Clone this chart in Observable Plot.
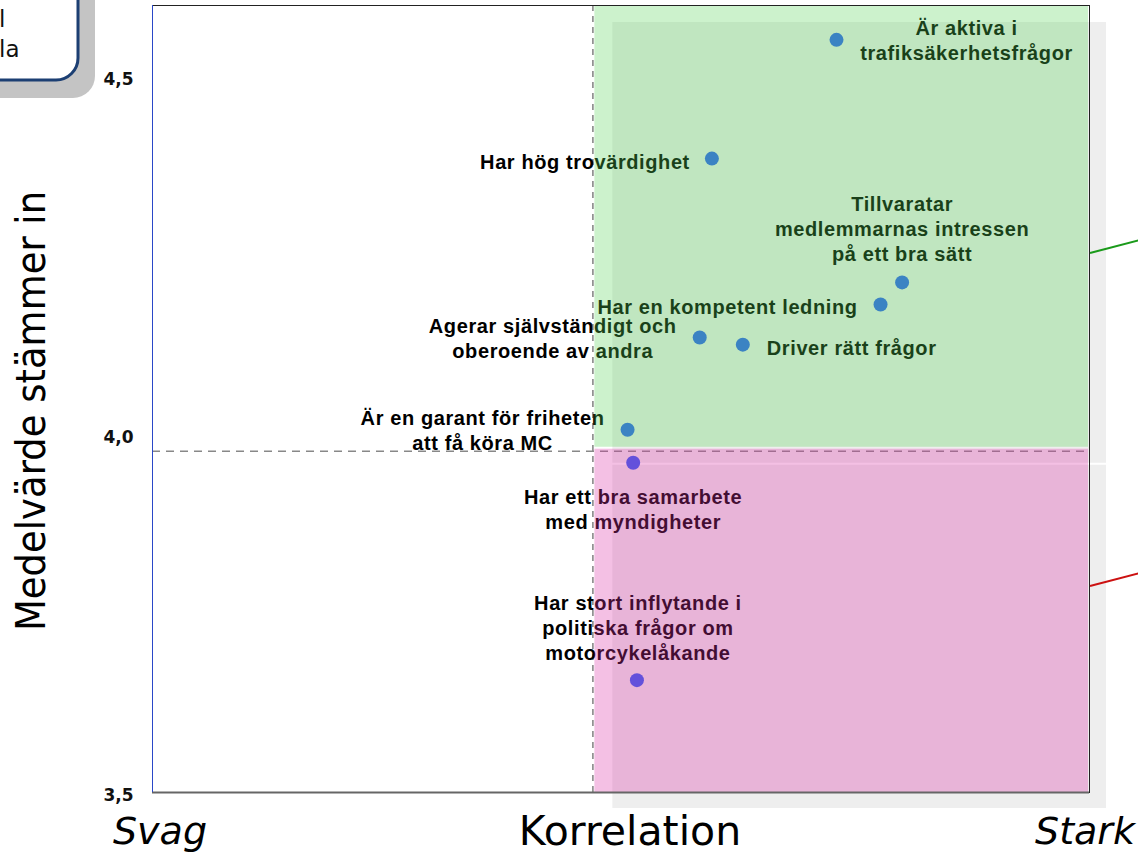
<!DOCTYPE html>
<html>
<head>
<meta charset="utf-8">
<script src="https://cdn.jsdelivr.net/npm/d3@7"></script>
<script src="https://cdn.jsdelivr.net/npm/@observablehq/plot@0.6"></script>
<style>
  body { margin: 0; background: #fff; }
  #chart { position: relative; width: 1138px; height: 854px; overflow: hidden; }
  #chart svg { display: block; }
  #chart svg g.pt-label text { letter-spacing: 0.6px; }
</style>
</head>
<body>
<div id="chart"></div>
<script>
// ---- Data ----
const statements = [
  "Är aktiva i\ntrafiksäkerhetsfrågor",
  "Har hög trovärdighet",
  "Tillvaratar\nmedlemmarnas intressen\npå ett bra sätt",
  "Har en kompetent ledning",
  "Agerar självständigt och\noberoende av andra",
  "Driver rätt frågor",
  "Är en garant för friheten\natt få köra MC",
  "Har ett bra samarbete\nmed myndigheter",
  "Har stort inflytande i\npolitiska frågor om\nmotorcykelåkande"
];
const correlation = [0.730, 0.597, 0.800, 0.777, 0.584, 0.630, 0.507, 0.513, 0.517];
const meanAgree   = [4.552, 4.386, 4.213, 4.182, 4.136, 4.126, 4.007, 3.961, 3.657];

const yTicks = [3.5, 4.0, 4.5];
const yTickLabels = ["3,5", "4,0", "4,5"];
const xDomain = [0, 1];
const yDomain = [3.5, 4.6];
const xSplit = 0.470;   // vertical reference line (correlation)
const ySplit = 3.977;   // horizontal reference line (mean)
const xTitle = "Korrelation";
const xLow = "Svag";
const xHigh = "Stark";
const yTitle = "Medelvärde stämmer in";
const calloutLines = ["l", "la"];

// ---- Label placement (layout only) ----
const labelLayout = [
  {anchor: "middle", dx: 130, dy: 0},
  {anchor: "end",    dx: -22, dy: 2},
  {anchor: "middle", dx: 0,   dy: -54},
  {anchor: "end",    dx: -23, dy: 1},
  {anchor: "middle", dx: -147, dy: 0},
  {anchor: "start",  dx: 24,  dy: 2},
  {anchor: "middle", dx: -145, dy: 0},
  {anchor: "middle", dx: 0,   dy: 46},
  {anchor: "middle", dx: 1,   dy: -53}
];

const points = statements.map((s, i) => ({label: s, x: correlation[i], y: meanAgree[i]}));

const greenQuad = [{x1: xSplit, x2: xDomain[1], y1: ySplit, y2: yDomain[1]}];
const pinkQuad  = [{x1: xSplit, x2: xDomain[1], y1: yDomain[0], y2: ySplit}];

const greenInset = {insetLeft: 2, insetRight: 1, insetTop: 1, insetBottom: 4};
const pinkInset  = {insetLeft: 2, insetRight: 1, insetTop: -2, insetBottom: 0};

const labelFont = {fontFamily: "Liberation Sans, Arial, sans-serif", fontSize: 20, fontWeight: "bold", lineHeight: 1.25, fill: "#000", className: "pt-label"};

const labelMarks = points.map((p, i) => Plot.text([p], {
  x: "x", y: "y", text: "label",
  textAnchor: labelLayout[i].anchor,
  dx: labelLayout[i].dx, dy: labelLayout[i].dy,
  ...labelFont
}));

const chart = Plot.plot({
  width: 1138,
  height: 854,
  marginLeft: 152,
  marginRight: 49,
  marginTop: 5,
  marginBottom: 62,
  style: {background: "transparent", overflow: "visible"},
  x: {domain: xDomain, axis: null},
  y: {domain: yDomain},
  marks: [
    // shadows
    Plot.rect(greenQuad, {x1: "x1", x2: "x2", y1: "y1", y2: "y2", fill: "#eeeeee", dx: 18, dy: 16, ...greenInset}),
    Plot.rect(pinkQuad,  {x1: "x1", x2: "x2", y1: "y1", y2: "y2", fill: "#eeeeee", dx: 18, dy: 16, ...pinkInset}),
    // reference lines
    Plot.ruleX([xSplit], {stroke: "#888", strokeWidth: 1.6, strokeDasharray: "6,5"}),
    Plot.ruleY([ySplit], {stroke: "#888", strokeWidth: 1.6, strokeDasharray: "8,6"}),
    // dots
    Plot.dot(points, {x: "x", y: "y", r: 7, fill: "#3060f2", stroke: "none"}),
    // labels
    ...labelMarks,
    // translucent quadrant boxes (over dots and text)
    Plot.rect(greenQuad, {x1: "x1", x2: "x2", y1: "y1", y2: "y2", fill: "rgb(85,211,85)", fillOpacity: 0.3, ...greenInset}),
    Plot.rect(pinkQuad,  {x1: "x1", x2: "x2", y1: "y1", y2: "y2", fill: "rgb(218,45,165)", fillOpacity: 0.3, ...pinkInset}),
    // frame
    Plot.frame({stroke: "#222", strokeWidth: 1}),
    Plot.ruleY([yDomain[0]], {stroke: "#666", strokeWidth: 2}),
    Plot.ruleX([xDomain[0]], {stroke: "#2a48c8", strokeWidth: 1}),
    // y axis
    Plot.axisY({
      ticks: yTicks,
      tickFormat: d => yTickLabels[yTicks.indexOf(d)],
      tickSize: 0, tickPadding: 19,
      fontSize: 17, fontWeight: "bold", fontFamily: "DejaVu Sans, Verdana, sans-serif",
      fill: "#111", dy: 3, label: null
    })
  ]
});

document.getElementById("chart").appendChild(chart);

// ---- Decorations outside the plot area ----
const svg = d3.select(chart);

// callout box partly cut off at top-left
const callout = svg.append("g").attr("text-anchor", "start");
callout.append("rect").attr("x", -23).attr("y", -22).attr("width", 118).attr("height", 120)
  .attr("rx", 22).attr("fill", "#c4c4c4");
callout.append("rect").attr("x", -40).attr("y", -40).attr("width", 118).attr("height", 120)
  .attr("rx", 22).attr("fill", "#fff").attr("stroke", "#1c3f73").attr("stroke-width", 3);
calloutLines.forEach((t, i) => {
  callout.append("text").attr("x", -1).attr("y", 27 + i * 30)
    .attr("text-anchor", "start")
    .attr("font-family", "DejaVu Sans, Verdana, sans-serif").attr("font-size", 23)
    .attr("fill", "#111").text(t);
});

// connector lines leaving on the right
svg.append("line").attr("x1", 1090).attr("y1", 253).attr("x2", 1140).attr("y2", 240)
  .attr("stroke", "#1a9a1a").attr("stroke-width", 2);
svg.append("line").attr("x1", 1090).attr("y1", 586).attr("x2", 1140).attr("y2", 573)
  .attr("stroke", "#cc1111").attr("stroke-width", 2);

// axis titles
svg.append("text")
  .attr("transform", "translate(45,411) rotate(-90) scale(1,1.12)")
  .attr("text-anchor", "middle")
  .attr("font-family", "DejaVu Sans, Verdana, sans-serif").attr("font-size", 37)
  .attr("fill", "#000").text(yTitle);

svg.append("text").attr("x", 630).attr("y", 845).attr("text-anchor", "middle")
  .attr("font-family", "DejaVu Sans, Verdana, sans-serif").attr("font-size", 41)
  .attr("fill", "#000").text(xTitle);

svg.append("text").attr("x", 113).attr("y", 844).attr("text-anchor", "start")
  .attr("font-family", "DejaVu Sans, Verdana, sans-serif").attr("font-size", 38).attr("font-style", "italic")
  .attr("fill", "#000").text(xLow);

svg.append("text").attr("x", 1135).attr("y", 844).attr("text-anchor", "end")
  .attr("font-family", "DejaVu Sans, Verdana, sans-serif").attr("font-size", 38).attr("font-style", "italic")
  .attr("fill", "#000").text(xHigh);
</script>
</body>
</html>
